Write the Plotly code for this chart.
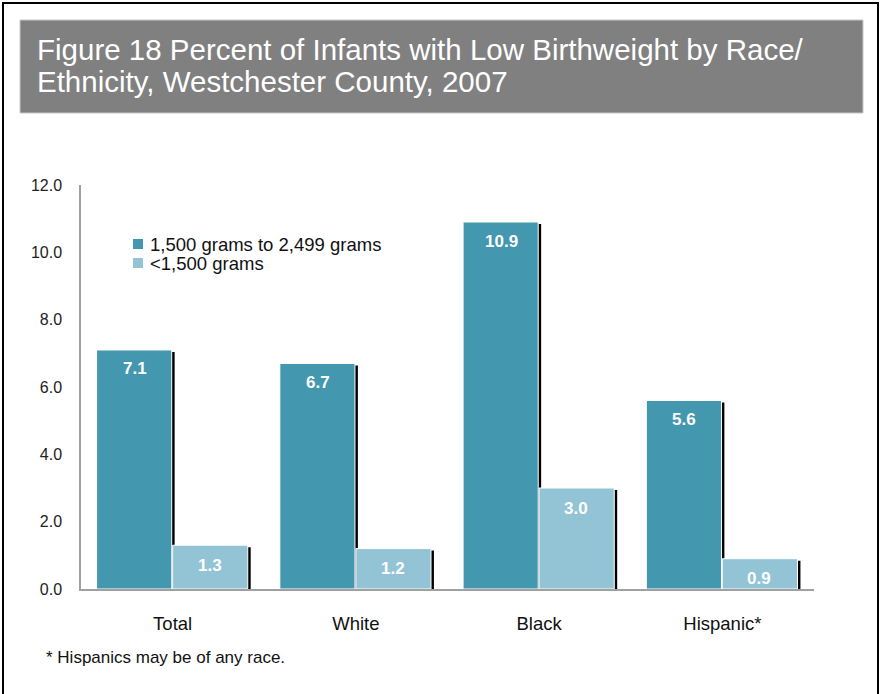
import plotly.graph_objects as go

categories = ["Total", "White", "Black", "Hispanic*"]
heavy_low = [7.1, 6.7, 10.9, 5.6]       # 1,500 grams to 2,499 grams
very_low = [1.3, 1.2, 3.0, 0.9]         # <1,500 grams
series_names = ["1,500 grams to 2,499 grams", "<1,500 grams"]
y_ticks = [0, 2, 4, 6, 8, 10, 12]

title_lines = ["Figure 18 Percent of Infants with Low Birthweight by Race/",
               "Ethnicity, Westchester County, 2007"]
footnote = "* Hispanics may be of any race."

DARK = "#4397AF"
LIGHT = "#93C4D5"
FONT = "Arial, Liberation Sans, sans-serif"

W, H = 880, 694
L, R, T, B = 81, 814, 185, 589  # plot area in pixels


def px(x):
    return (x - L) / (R - L)


def py(y):
    return (B - y) / (B - T)


BW = 0.41
OFF_D = -0.415
OFF_L = 0.0
SH = 0.016
ydrop = 0.06

fig = go.Figure()
# shadows
fig.add_trace(go.Bar(x=categories, y=[v - ydrop for v in heavy_low], width=BW, offset=OFF_D + SH,
                     marker=dict(color="black", line=dict(width=0)), showlegend=False, hoverinfo="skip"))
fig.add_trace(go.Bar(x=categories, y=[v - ydrop for v in very_low], width=BW, offset=OFF_L + SH,
                     marker=dict(color="black", line=dict(width=0)), showlegend=False, hoverinfo="skip"))
# main bars
fig.add_trace(go.Bar(x=categories, y=heavy_low, width=BW, offset=OFF_D, name=series_names[0],
                     marker=dict(color=DARK, line=dict(color="white", width=1)), showlegend=False))
fig.add_trace(go.Bar(x=categories, y=very_low, width=BW, offset=OFF_L, name=series_names[1],
                     marker=dict(color=LIGHT, line=dict(color="white", width=1)), showlegend=False))

annotations = []
for c, v in zip(categories, heavy_low):
    annotations.append(dict(x=c, y=v, xref="x", yref="y", text=f"<b>{v:.1f}</b>", showarrow=False,
                            xshift=-38, yshift=-19, font=dict(family=FONT, size=17, color="white")))
for c, v in zip(categories, very_low):
    annotations.append(dict(x=c, y=v, xref="x", yref="y", text=f"<b>{v:.1f}</b>", showarrow=False,
                            xshift=37, yshift=-20, font=dict(family=FONT, size=17, color="white")))

# title lines
annotations.append(dict(x=px(35), y=py(50), xref="paper", yref="paper", xanchor="left", yanchor="middle",
                        text=title_lines[0], showarrow=False, font=dict(family=FONT, size=29.5, color="white")))
annotations.append(dict(x=px(35), y=py(81), xref="paper", yref="paper", xanchor="left", yanchor="middle",
                        text=title_lines[1], showarrow=False, font=dict(family=FONT, size=29.5, color="white")))
# footnote
annotations.append(dict(x=px(44), y=py(657), xref="paper", yref="paper", xanchor="left", yanchor="middle",
                        text=footnote, showarrow=False, font=dict(family=FONT, size=17, color="#111111")))

# legend (drawn manually to match the tight spacing)
legend_colors = [DARK, LIGHT]
legend_rows = [244, 263]
shapes = [
    dict(type="rect", xref="paper", yref="paper", x0=px(20), x1=px(863), y0=py(20), y1=py(113),
         fillcolor="#808080", line=dict(color="#c8c8c8", width=1), layer="below"),
    dict(type="rect", xref="paper", yref="paper", x0=px(3), x1=px(878), y0=py(3), y1=py(700),
         fillcolor="rgba(0,0,0,0)", line=dict(color="black", width=2), layer="below"),
]
for name, col, yy in zip(series_names, legend_colors, legend_rows):
    shapes.append(dict(type="rect", xref="paper", yref="paper", x0=px(133), x1=px(143),
                       y0=py(yy + 5), y1=py(yy - 5), fillcolor=col, line=dict(width=0)))
    annotations.append(dict(x=px(148), y=py(yy), xref="paper", yref="paper", xanchor="left",
                            yanchor="middle", text=name, showarrow=False,
                            font=dict(family=FONT, size=18.5, color="#111111")))

fig.update_layout(
    width=W, height=H,
    margin=dict(l=L, r=W - R, t=T, b=H - B, pad=0),
    paper_bgcolor="white", plot_bgcolor="white",
    barmode="overlay",
    font=dict(family=FONT, size=16, color="#111111"),
    showlegend=False,
    annotations=annotations,
    shapes=shapes,
)
fig.update_xaxes(showline=True, linecolor="#a0a0a0", linewidth=1.5, showgrid=False, zeroline=False,
                 ticks="outside", ticklen=17, tickcolor="rgba(0,0,0,0)",
                 tickfont=dict(family=FONT, size=18.5, color="#111111"))
fig.update_yaxes(range=[0, 12], tickvals=y_ticks, tickformat=".1f", showline=True, linecolor="#a0a0a0",
                 linewidth=1.5, showgrid=False, zeroline=False, ticks="outside", ticklen=14,
                 tickcolor="rgba(0,0,0,0)", tickfont=dict(family=FONT, size=16, color="#222222"))

fig.write_html("out.html")
